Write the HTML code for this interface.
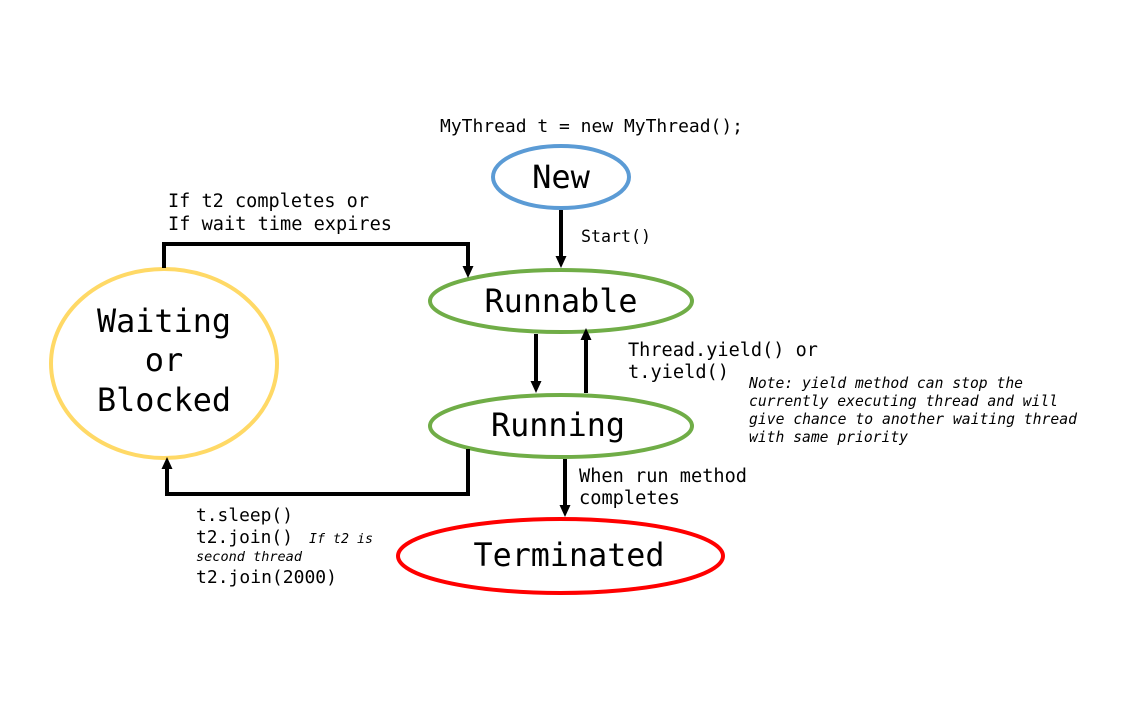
<!DOCTYPE html>
<html>
<head>
<meta charset="utf-8">
<style>
html,body{margin:0;padding:0;background:#fff;}
svg{display:block;}
text{font-family:"DejaVu Sans Mono","Liberation Mono",monospace;fill:#000;}
.it{font-style:italic;}
</style>
</head>
<body>
<svg width="1127" height="725" viewBox="0 0 1127 725" xmlns="http://www.w3.org/2000/svg">
<rect x="0" y="0" width="1127" height="725" fill="#fff"/>

<!-- Ellipses -->
<ellipse cx="561" cy="177" rx="68" ry="31" fill="none" stroke="#5b9bd5" stroke-width="4"/>
<ellipse cx="561" cy="301" rx="131" ry="31" fill="none" stroke="#70ad47" stroke-width="4"/>
<ellipse cx="561" cy="426" rx="131" ry="31" fill="none" stroke="#70ad47" stroke-width="4"/>
<ellipse cx="560.5" cy="556" rx="162.5" ry="37" fill="none" stroke="#ff0000" stroke-width="4"/>
<ellipse cx="164" cy="363.5" rx="113" ry="94.5" fill="none" stroke="#ffd966" stroke-width="4"/>

<!-- Connectors -->
<g stroke="#000" stroke-width="4" fill="none" stroke-linejoin="miter">
  <line x1="561" y1="210" x2="561" y2="257"/>
  <polyline points="164,268 164,244 468,244 468,267"/>
  <line x1="536" y1="334" x2="536" y2="382"/>
  <line x1="586" y1="393" x2="586" y2="339"/>
  <polyline points="468,449 468,494 167,494 167,468"/>
  <line x1="565" y1="459" x2="565" y2="506"/>
</g>
<g fill="#000">
  <polygon points="555.5,256 566.5,256 561,268"/>
  <polygon points="462.5,266 473.5,266 468,278"/>
  <polygon points="530.5,381 541.5,381 536,393"/>
  <polygon points="580.5,340 591.5,340 586,328"/>
  <polygon points="161.5,469 172.5,469 167,457"/>
  <polygon points="559.5,505 570.5,505 565,517"/>
</g>

<!-- Node labels -->
<text x="561" y="188" font-size="32" text-anchor="middle">New</text>
<text x="561" y="312" font-size="32" text-anchor="middle" textLength="153" lengthAdjust="spacingAndGlyphs">Runnable</text>
<text x="558" y="436" font-size="32" text-anchor="middle" textLength="134" lengthAdjust="spacingAndGlyphs">Running</text>
<text x="569" y="566" font-size="32" text-anchor="middle" textLength="191" lengthAdjust="spacingAndGlyphs">Terminated</text>
<text x="164" y="332" font-size="32" text-anchor="middle" textLength="134" lengthAdjust="spacingAndGlyphs">Waiting</text>
<text x="164" y="371" font-size="32" text-anchor="middle">or</text>
<text x="164" y="411" font-size="32" text-anchor="middle" textLength="134" lengthAdjust="spacingAndGlyphs">Blocked</text>

<!-- Edge labels -->
<text x="440" y="132" font-size="18" textLength="303" lengthAdjust="spacingAndGlyphs">MyThread t = new MyThread();</text>
<text x="581" y="242" font-size="17" textLength="70" lengthAdjust="spacingAndGlyphs">Start()</text>

<text x="168" y="207" font-size="18.5" textLength="201" lengthAdjust="spacingAndGlyphs">If t2 completes or</text>
<text x="168" y="230" font-size="18.5" textLength="224" lengthAdjust="spacingAndGlyphs">If wait time expires</text>

<text x="628" y="356" font-size="18.5" textLength="190" lengthAdjust="spacingAndGlyphs">Thread.yield() or</text>
<text x="628" y="378" font-size="18.5" textLength="101" lengthAdjust="spacingAndGlyphs">t.yield()</text>

<text class="it" x="749" y="388" font-size="14.8" textLength="274" lengthAdjust="spacingAndGlyphs">Note: yield method can stop the</text>
<text class="it" x="749" y="406" font-size="14.8" textLength="309" lengthAdjust="spacingAndGlyphs">currently executing thread and will</text>
<text class="it" x="749" y="424" font-size="14.8" textLength="328" lengthAdjust="spacingAndGlyphs">give chance to another waiting thread</text>
<text class="it" x="749" y="442" font-size="14.8" textLength="159" lengthAdjust="spacingAndGlyphs">with same priority</text>

<text x="579" y="482" font-size="18.5" textLength="168" lengthAdjust="spacingAndGlyphs">When run method</text>
<text x="579" y="504" font-size="18.5" textLength="101" lengthAdjust="spacingAndGlyphs">completes</text>

<text x="196" y="521" font-size="18" textLength="97" lengthAdjust="spacingAndGlyphs">t.sleep()</text>
<text x="196" y="543" font-size="18" textLength="97" lengthAdjust="spacingAndGlyphs">t2.join()</text>
<text class="it" x="309" y="543" font-size="13.5" textLength="64" lengthAdjust="spacingAndGlyphs">If t2 is</text>
<text class="it" x="196" y="561" font-size="13.5" textLength="106" lengthAdjust="spacingAndGlyphs">second thread</text>
<text x="196" y="583" font-size="18" textLength="141" lengthAdjust="spacingAndGlyphs">t2.join(2000)</text>
</svg>
</body>
</html>
